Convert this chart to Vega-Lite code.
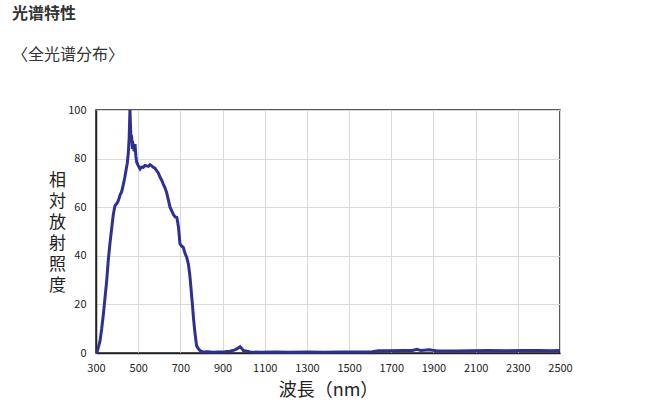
{
  "$schema": "https://vega.github.io/schema/vega-lite/v6.json",
  "width": 464,
  "height": 243,
  "autosize": "none",
  "padding": {"left": 96, "top": 110, "right": 103, "bottom": 62},
  "background": "white",
  "title": {
    "text": "光谱特性",
    "subtitle": "〈全光谱分布〉",
    "anchor": "start",
    "frame": "group",
    "dx": -84,
    "offset": 41,
    "font": "Noto Sans CJK SC",
    "fontSize": 16,
    "fontWeight": "bold",
    "color": "#333333",
    "subtitleFont": "Noto Sans CJK SC",
    "subtitleFontSize": 16,
    "subtitleColor": "#333333",
    "subtitlePadding": 25
  },
  "config": {
    "view": {"stroke": "#222222", "strokeWidth": 1.5}
  },
  "data": {
    "values": [
      {"nm": 300, "v": 0},
      {"nm": 305, "v": 0.5},
      {"nm": 312, "v": 2.5},
      {"nm": 319, "v": 5},
      {"nm": 327, "v": 10},
      {"nm": 335, "v": 16},
      {"nm": 343, "v": 23},
      {"nm": 351, "v": 30},
      {"nm": 358, "v": 38},
      {"nm": 366, "v": 45},
      {"nm": 374, "v": 51},
      {"nm": 382, "v": 57},
      {"nm": 390, "v": 60.6},
      {"nm": 398, "v": 61.5},
      {"nm": 406, "v": 62.7},
      {"nm": 414, "v": 65},
      {"nm": 422, "v": 66.5},
      {"nm": 430, "v": 69.5},
      {"nm": 436, "v": 72},
      {"nm": 442, "v": 75},
      {"nm": 448, "v": 78},
      {"nm": 453, "v": 82},
      {"nm": 457, "v": 88},
      {"nm": 461, "v": 100},
      {"nm": 465, "v": 90},
      {"nm": 469, "v": 89},
      {"nm": 473, "v": 84},
      {"nm": 477, "v": 85},
      {"nm": 481, "v": 83},
      {"nm": 485, "v": 86},
      {"nm": 489, "v": 81},
      {"nm": 493, "v": 78.5},
      {"nm": 501, "v": 77},
      {"nm": 509, "v": 75.7},
      {"nm": 516, "v": 76.5},
      {"nm": 524, "v": 76.4},
      {"nm": 532, "v": 77.2},
      {"nm": 540, "v": 77},
      {"nm": 548, "v": 76.8},
      {"nm": 556, "v": 77.5},
      {"nm": 564, "v": 77},
      {"nm": 572, "v": 76.4},
      {"nm": 580, "v": 76},
      {"nm": 588, "v": 75},
      {"nm": 596, "v": 74},
      {"nm": 604, "v": 72.3},
      {"nm": 612, "v": 71},
      {"nm": 619, "v": 69.5},
      {"nm": 627, "v": 68},
      {"nm": 635, "v": 66},
      {"nm": 643, "v": 63},
      {"nm": 651, "v": 60},
      {"nm": 659, "v": 58.5},
      {"nm": 667, "v": 57},
      {"nm": 675, "v": 56},
      {"nm": 683, "v": 55.8},
      {"nm": 687, "v": 54},
      {"nm": 691, "v": 51.7},
      {"nm": 695, "v": 48},
      {"nm": 698, "v": 45},
      {"nm": 706, "v": 44},
      {"nm": 714, "v": 43.5},
      {"nm": 722, "v": 41},
      {"nm": 730, "v": 39.4},
      {"nm": 738, "v": 36.6},
      {"nm": 742, "v": 34},
      {"nm": 746, "v": 31},
      {"nm": 750, "v": 27},
      {"nm": 754, "v": 23},
      {"nm": 758, "v": 19},
      {"nm": 762, "v": 14.7},
      {"nm": 766, "v": 11},
      {"nm": 770, "v": 7.8},
      {"nm": 774, "v": 5},
      {"nm": 777, "v": 3},
      {"nm": 785, "v": 1.8},
      {"nm": 793, "v": 1},
      {"nm": 809, "v": 0.4},
      {"nm": 830, "v": 0.5},
      {"nm": 857, "v": 0.3},
      {"nm": 880, "v": 0.4},
      {"nm": 910, "v": 0.5},
      {"nm": 936, "v": 0.7},
      {"nm": 955, "v": 1.2},
      {"nm": 970, "v": 1.8},
      {"nm": 983, "v": 2.6},
      {"nm": 992, "v": 1.8},
      {"nm": 999, "v": 1},
      {"nm": 1031, "v": 0.4},
      {"nm": 1080, "v": 0.3},
      {"nm": 1150, "v": 0.4},
      {"nm": 1220, "v": 0.3},
      {"nm": 1300, "v": 0.4},
      {"nm": 1380, "v": 0.3},
      {"nm": 1460, "v": 0.4},
      {"nm": 1540, "v": 0.4},
      {"nm": 1610, "v": 0.5},
      {"nm": 1640, "v": 0.9},
      {"nm": 1700, "v": 0.9},
      {"nm": 1760, "v": 1},
      {"nm": 1800, "v": 1},
      {"nm": 1822, "v": 1.5},
      {"nm": 1840, "v": 1},
      {"nm": 1880, "v": 1.3},
      {"nm": 1920, "v": 0.8},
      {"nm": 2000, "v": 0.8},
      {"nm": 2080, "v": 0.9},
      {"nm": 2160, "v": 1},
      {"nm": 2240, "v": 0.9},
      {"nm": 2320, "v": 1},
      {"nm": 2400, "v": 1},
      {"nm": 2460, "v": 0.9},
      {"nm": 2500, "v": 1}
    ]
  },
  "mark": {"type": "line", "color": "#2e3192", "strokeWidth": 3, "interpolate": "linear"},
  "encoding": {
    "x": {
      "field": "nm",
      "type": "quantitative",
      "scale": {"domain": [300, 2500], "nice": false, "zero": false},
      "axis": {
        "values": [300, 500, 700, 900, 1100, 1300, 1500, 1700, 1900, 2100, 2300, 2500],
        "format": "d",
        "title": "波長（nm）",
        "titleFont": "Noto Sans CJK JP",
        "titleFontSize": 18,
        "titleFontWeight": "normal",
        "titleColor": "#222222",
        "titlePadding": 8,
        "labelFont": "Noto Sans CJK JP",
        "labelFontSize": 11,
        "labelColor": "#222222",
        "labelPadding": 9,
        "labelFlush": false,
        "ticks": false,
        "domainColor": "#222222",
        "domainWidth": 1.5,
        "gridColor": "#d9d9d9",
        "grid": true
      }
    },
    "y": {
      "field": "v",
      "type": "quantitative",
      "scale": {"domain": [0, 100], "nice": false},
      "axis": {
        "values": [0, 20, 40, 60, 80, 100],
        "title": ["相", "対", "放", "射", "照", "度"],
        "titleAngle": 0,
        "titleAlign": "center",
        "titleBaseline": "middle",
        "titleLineHeight": 21,
        "titleFont": "Noto Sans CJK JP",
        "titleFontSize": 17,
        "titleFontWeight": "normal",
        "titleColor": "#222222",
        "titleX": -39,
        "titleY": 70,
        "labelFont": "Noto Sans CJK JP",
        "labelFontSize": 11,
        "labelColor": "#222222",
        "labelPadding": 10,
        "labelFlush": false,
        "ticks": false,
        "domainColor": "#222222",
        "domainWidth": 1.5,
        "gridColor": "#d9d9d9",
        "grid": true
      }
    }
  }
}
